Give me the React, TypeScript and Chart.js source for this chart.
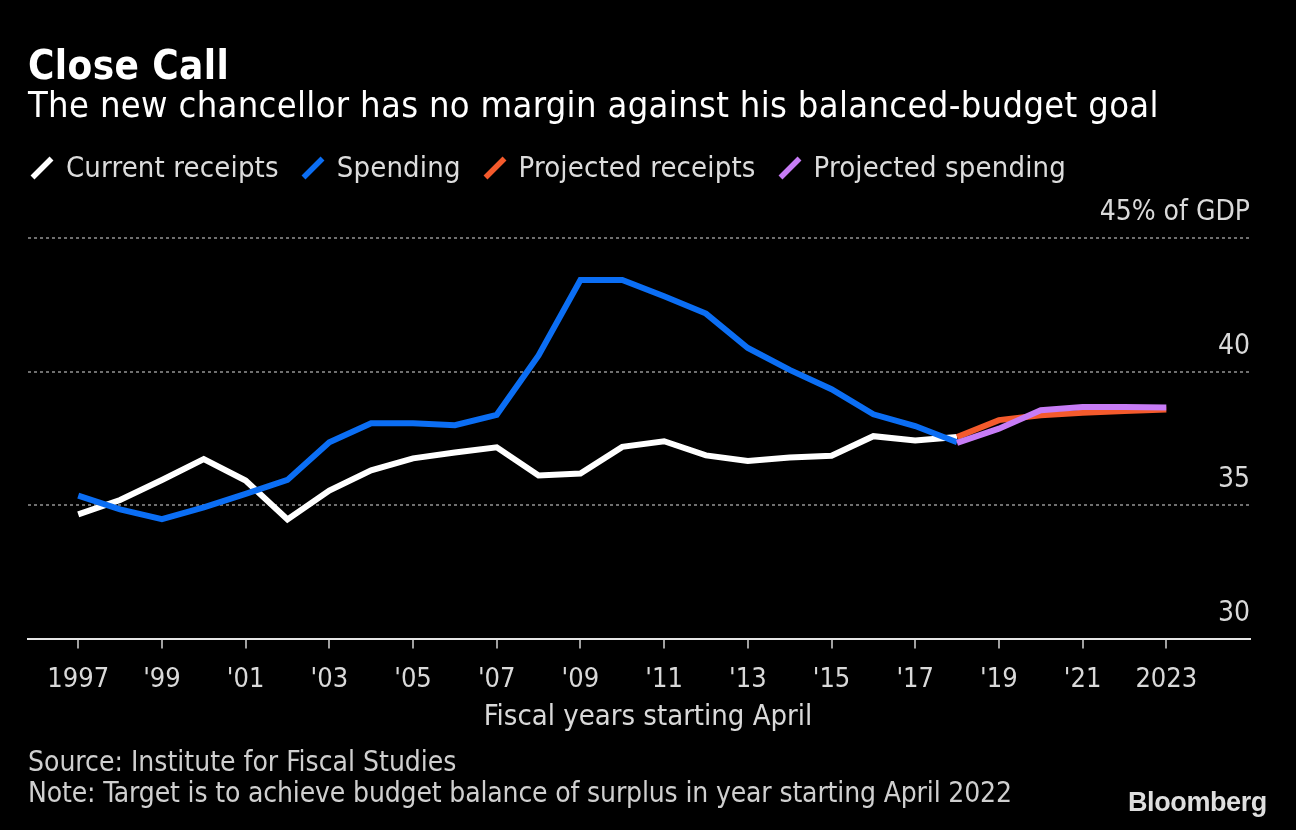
import React, { useEffect, useRef } from 'react';
import { Chart, registerables } from 'chart.js';

Chart.register(...registerables);

const FONT = "'DejaVu Sans Condensed', 'DejaVu Sans', sans-serif";

const years = [
  1997, 1998, 1999, 2000, 2001, 2002, 2003, 2004, 2005, 2006, 2007, 2008, 2009, 2010,
  2011, 2012, 2013, 2014, 2015, 2016, 2017, 2018, 2019, 2020, 2021, 2022, 2023,
];

const currentReceipts: (number | null)[] = [
  34.65, 35.19, 35.94, 36.72, 35.92, 34.46, 35.54, 36.3, 36.75, 36.97, 37.16, 36.11, 36.18, 37.18,
  37.39, 36.86, 36.65, 36.78, 36.85, 37.58, 37.42, 37.55, null, null, null, null, null,
];

const spending: (number | null)[] = [
  35.35, 34.84, 34.47, 34.91, 35.42, 35.94, 37.35, 38.06, 38.06, 37.99, 38.38, 40.6, 43.43, 43.43,
  42.82, 42.17, 40.88, 40.06, 39.34, 38.4, 37.96, 37.35, null, null, null, null, null,
];

const projectedReceipts: (number | null)[] = [
  null, null, null, null, null, null, null, null, null, null, null, null, null, null,
  null, null, null, null, null, null, null, 37.55, 38.18, 38.36, 38.46, 38.52, 38.58,
];

const projectedSpending: (number | null)[] = [
  null, null, null, null, null, null, null, null, null, null, null, null, null, null,
  null, null, null, null, null, null, null, 37.33, 37.86, 38.55, 38.67, 38.67, 38.65,
];

const seriesLabels = ['Current receipts', 'Spending', 'Projected receipts', 'Projected spending'];
const seriesColors = ['#ffffff', '#0b6ef4', '#f45a2c', '#c77cf6'];

const xTickValues = [1997, 1999, 2001, 2003, 2005, 2007, 2009, 2011, 2013, 2015, 2017, 2019, 2021, 2023];
const yTickValues = [30, 35, 40, 45];
const yTopUnit = '% of GDP';

const titleText = 'Close Call';
const subtitleText = 'The new chancellor has no margin against his balanced-budget goal';
const xAxisTitle = 'Fiscal years starting April';
const sourceText = 'Source: Institute for Fiscal Studies';
const noteText = 'Note: Target is to achieve budget balance of surplus in year starting April 2022';

function toPoints(arr: (number | null)[]) {
  const pts: { x: number; y: number }[] = [];
  arr.forEach((v, i) => {
    if (v !== null) pts.push({ x: years[i], y: v });
  });
  return pts;
}

function formatYear(v: number) {
  if (v === xTickValues[0] || v === xTickValues[xTickValues.length - 1]) return String(v);
  return "'" + String(v).slice(2);
}

export default function App() {
  const canvasRef = useRef<HTMLCanvasElement | null>(null);

  useEffect(() => {
    document.body.style.margin = '0';
    document.body.style.background = '#000';
    const canvas = canvasRef.current;
    if (!canvas) return;
    const allSeries = [currentReceipts, spending, projectedReceipts, projectedSpending];
    const orders = [4, 3, 2, 1];
    const chart = new Chart(canvas, {
      type: 'line',
      data: {
        datasets: allSeries.map((s, i) => ({
          label: seriesLabels[i],
          data: toPoints(s),
          borderColor: seriesColors[i],
          backgroundColor: seriesColors[i],
          borderWidth: 6,
          pointRadius: 0,
          pointHoverRadius: 0,
          tension: 0,
          fill: false,
          order: orders[i],
          borderCapStyle: 'butt',
          borderJoinStyle: 'miter',
        })),
      },
      options: {
        animation: false,
        responsive: false,
        devicePixelRatio: 1,
        events: [],
        layout: { padding: { left: 28, right: 46, top: 238, bottom: 119 } },
        plugins: {
          legend: { display: false },
          tooltip: { enabled: false },
          title: { display: false },
        },
        scales: {
          x: {
            type: 'linear',
            bounds: 'data',
            min: 1995.8,
            max: 2025,
            afterBuildTicks: (scale: any) => {
              scale.ticks = xTickValues.map((v) => ({ value: v }));
            },
            grid: {
              display: true,
              drawOnChartArea: false,
              drawTicks: true,
              tickLength: 10,
              color: '#a0a0a0',
              lineWidth: 2,
            },
            border: { display: true, color: '#e6e6e6', width: 2 },
            ticks: {
              color: '#d9d9d9',
              font: { family: FONT, size: 27 },
              padding: 15,
              maxRotation: 0,
              minRotation: 0,
              autoSkip: false,
              callback: (v: any) => formatYear(Number(v)),
            },
          },
          y: {
            type: 'linear',
            position: 'right',
            bounds: 'data',
            min: 30,
            max: 45,
            afterBuildTicks: (scale: any) => {
              scale.ticks = yTickValues.map((v) => ({ value: v }));
            },
            grid: {
              color: (ctx: any) =>
                ctx.tick && ctx.tick.value === yTickValues[0] ? 'rgba(0,0,0,0)' : '#6f6f6f',
              lineWidth: 2,
              drawTicks: false,
            },
            border: { display: false, dash: [3, 3] },
            ticks: {
              mirror: true,
              padding: 0,
              labelOffset: -25,
              color: '#d9d9d9',
              font: { family: FONT, size: 28 },
              callback: (v: any) =>
                Number(v) === yTickValues[yTickValues.length - 1] ? String(v) + yTopUnit : String(v),
            },
          },
        },
      } as any,
    });
    return () => chart.destroy();
  }, []);

  const textBase: React.CSSProperties = {
    position: 'absolute',
    whiteSpace: 'nowrap',
    fontFamily: FONT,
  };

  return (
    <div
      style={{
        position: 'absolute',
        left: 0,
        top: 0,
        width: 1296,
        height: 830,
        background: '#000',
        overflow: 'hidden',
      }}
    >
      <canvas
        ref={canvasRef}
        width={1296}
        height={830}
        style={{ position: 'absolute', left: 0, top: 0, width: 1296, height: 830 }}
      />
      <div
        style={{
          ...textBase,
          left: 28,
          top: 45,
          fontSize: 40,
          lineHeight: '40px',
          fontWeight: 'bold',
          letterSpacing: '0.4px',
          color: '#ffffff',
        }}
      >
        {titleText}
      </div>
      <div
        style={{
          ...textBase,
          left: 28,
          top: 87,
          fontSize: 36,
          lineHeight: '36px',
          letterSpacing: '0.34px',
          color: '#ffffff',
        }}
      >
        {subtitleText}
      </div>
      <div
        style={{
          ...textBase,
          left: 30,
          top: 153,
          height: 29,
          display: 'flex',
          alignItems: 'center',
        }}
      >
        {seriesLabels.map((lab, i) => (
          <div key={lab} style={{ display: 'flex', alignItems: 'center', marginRight: 22 }}>
            <svg width={24} height={24} style={{ marginRight: 12, display: 'block' }}>
              <line x1={2.5} y1={21.5} x2={21.5} y2={2.5} stroke={seriesColors[i]} strokeWidth={5.5} />
            </svg>
            <span
              style={{
                fontSize: 29,
                lineHeight: '29px',
                letterSpacing: '0.15px',
                color: '#dcdcdc',
              }}
            >
              {lab}
            </span>
          </div>
        ))}
      </div>
      <div
        style={{
          ...textBase,
          left: 0,
          width: 1296,
          textAlign: 'center',
          top: 701,
          fontSize: 29,
          lineHeight: '29px',
          color: '#d9d9d9',
        }}
      >
        {xAxisTitle}
      </div>
      <div
        style={{
          ...textBase,
          left: 28,
          top: 748,
          fontSize: 28,
          lineHeight: '28px',
          color: '#cfcfcf',
        }}
      >
        {sourceText}
      </div>
      <div
        style={{
          ...textBase,
          left: 28,
          top: 779,
          fontSize: 28,
          lineHeight: '28px',
          letterSpacing: '-0.15px',
          color: '#cfcfcf',
        }}
      >
        {noteText}
      </div>
      <div
        style={{
          ...textBase,
          left: 1128,
          top: 789,
          fontFamily: "'Liberation Sans', Arial, sans-serif",
          fontSize: 27,
          lineHeight: '27px',
          fontWeight: 'bold',
          letterSpacing: '-0.4px',
          color: '#dedede',
        }}
      >
        Bloomberg
      </div>
    </div>
  );
}
